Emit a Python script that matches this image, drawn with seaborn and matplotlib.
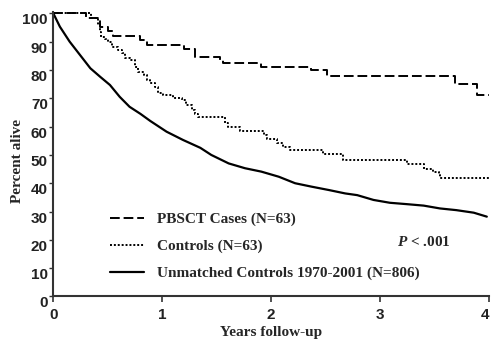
import seaborn as sns
import matplotlib.pyplot as plt
import pandas as pd

# Kaplan-Meier style survival curves
pbsct_years = [0, 0.30, 0.43, 0.50, 0.55, 0.80, 0.86, 1.20, 1.30, 1.53, 1.56, 1.91, 2.37, 2.51, 3.69, 3.89, 4.0]
pbsct_pct = [100, 98.4, 95.2, 93.7, 92.1, 90.5, 88.9, 87.3, 84.7, 83.4, 82.3, 81.2, 80.0, 77.8, 75.0, 71.2, 71.2]

ctrl_years = [0, 0.35, 0.41, 0.43, 0.44, 0.47, 0.505, 0.54, 0.59, 0.63, 0.66, 0.70, 0.75, 0.78, 0.83,
              0.86, 0.89, 0.93, 0.96, 1.01, 1.10, 1.18, 1.22, 1.27, 1.30, 1.33, 1.58, 1.60, 1.71, 1.93,
              1.96, 2.05, 2.11, 2.17, 2.48, 2.66, 3.25, 3.40, 3.49, 3.54, 3.55, 4.0]
ctrl_pct = [100, 98.2, 95.9, 93.5, 91.7, 91.0, 90.0, 88.2, 87.0, 85.9, 84.1, 83.5, 81.1, 79.4, 78.2,
            76.4, 75.3, 74.1, 71.8, 71.2, 70.0, 69.4, 67.6, 65.9, 64.5, 63.5, 61.2, 60.0, 58.5, 57.0,
            55.6, 54.1, 52.9, 51.7, 50.3, 48.3, 46.8, 45.0, 44.1, 42.9, 41.7, 41.7]

unm_years = [0, 0.06, 0.15, 0.245, 0.34, 0.43, 0.52, 0.61, 0.70, 0.80, 0.89, 1.04, 1.19, 1.35, 1.45,
             1.61, 1.76, 1.91, 2.07, 2.22, 2.37, 2.53, 2.68, 2.79, 2.94, 3.09, 3.25, 3.40, 3.55, 3.70,
             3.86, 3.98]
unm_pct = [100, 95.3, 90.0, 85.3, 80.6, 77.6, 74.7, 70.5, 67.0, 64.5, 62.0, 58.2, 55.3, 52.5, 50.0,
           47.0, 45.3, 44.1, 42.3, 40.0, 38.8, 37.6, 36.4, 35.8, 34.1, 33.1, 32.6, 32.1, 31.1, 30.5,
           29.6, 28.2]

labels = ['PBSCT Cases (N=63)', 'Controls (N=63)', 'Unmatched Controls 1970-2001 (N=806)']
x_ticks = [0, 1, 2, 3, 4]
y_ticks = [0, 10, 20, 30, 40, 50, 60, 70, 80, 90, 100]

sns.set_style('ticks')
plt.rcParams['font.family'] = ['Liberation Serif', 'DejaVu Serif']
plt.rcParams['mathtext.fontset'] = 'custom'
plt.rcParams['mathtext.it'] = 'Liberation Serif:italic:bold'
plt.rcParams['mathtext.rm'] = 'Liberation Serif:bold'

fig = plt.figure(figsize=(4.91, 3.41), dpi=100)
ax = fig.add_axes([0.1086, 0.1305, 0.8873, 0.8345])

df1 = pd.DataFrame({'year': pbsct_years, 'pct': pbsct_pct})
df2 = pd.DataFrame({'year': ctrl_years, 'pct': ctrl_pct})
df3 = pd.DataFrame({'year': unm_years, 'pct': unm_pct})

sns.lineplot(data=df1, x='year', y='pct', ax=ax, color='black', lw=1.4, linestyle=(0, (5, 2)),
             drawstyle='steps-post', estimator=None, sort=False, label=labels[0])
sns.lineplot(data=df2, x='year', y='pct', ax=ax, color='black', lw=1.4, linestyle=(0, (1, 1)),
             drawstyle='steps-post', estimator=None, sort=False, label=labels[1])
sns.lineplot(data=df3, x='year', y='pct', ax=ax, color='black', lw=1.6,
             estimator=None, sort=False, label=labels[2])

ax.set_xlim(0, 4)
ax.set_ylim(0, 100.5)
ax.set_xticks(x_ticks)
ax.set_yticks(y_ticks)
ax.set_xticklabels([str(v) for v in x_ticks], fontfamily='Liberation Sans', fontweight='bold', fontsize=11)
ax.set_yticklabels([str(v) for v in y_ticks], fontfamily='Liberation Sans', fontweight='bold', fontsize=11)
for lbl in ax.get_yticklabels():
    lbl.set_va('top')
# last x label sits at the right edge, keep it inside the figure
ax.get_xticklabels()[-1].set_ha('right')
ax.tick_params(axis='x', direction='out', length=4, width=1.2, pad=4, colors='#333333', labelcolor='#222222')
ax.tick_params(axis='y', direction='out', length=3, width=1.0, pad=1, colors='#333333', labelcolor='#222222')

sns.despine(ax=ax)
for side in ['left', 'bottom']:
    ax.spines[side].set_linewidth(1.5)
    ax.spines[side].set_color('#333333')
ax.spines['left'].set_bounds(0, 100.5)

ax.set_xlabel('Years follow-up', fontsize=11, fontweight='bold')
ax.set_ylabel('Percent alive', fontsize=11, fontweight='bold')
ax.xaxis.set_label_coords(0.5, -0.103)
ax.yaxis.set_label_coords(-0.068, 0.476)

leg = ax.legend(loc='center left', bbox_to_anchor=(0.13, 0.176), frameon=False,
                prop={'family': 'Liberation Serif', 'weight': 'bold', 'size': 11},
                handlelength=2.2, handletextpad=0.9, labelspacing=0.85,
                borderpad=0, borderaxespad=0)

ax.text(3.16, 19.2, r'$P$ < .001', fontsize=11, fontweight='bold', va='center', ha='left')

plt.savefig('out.png', dpi=100)
